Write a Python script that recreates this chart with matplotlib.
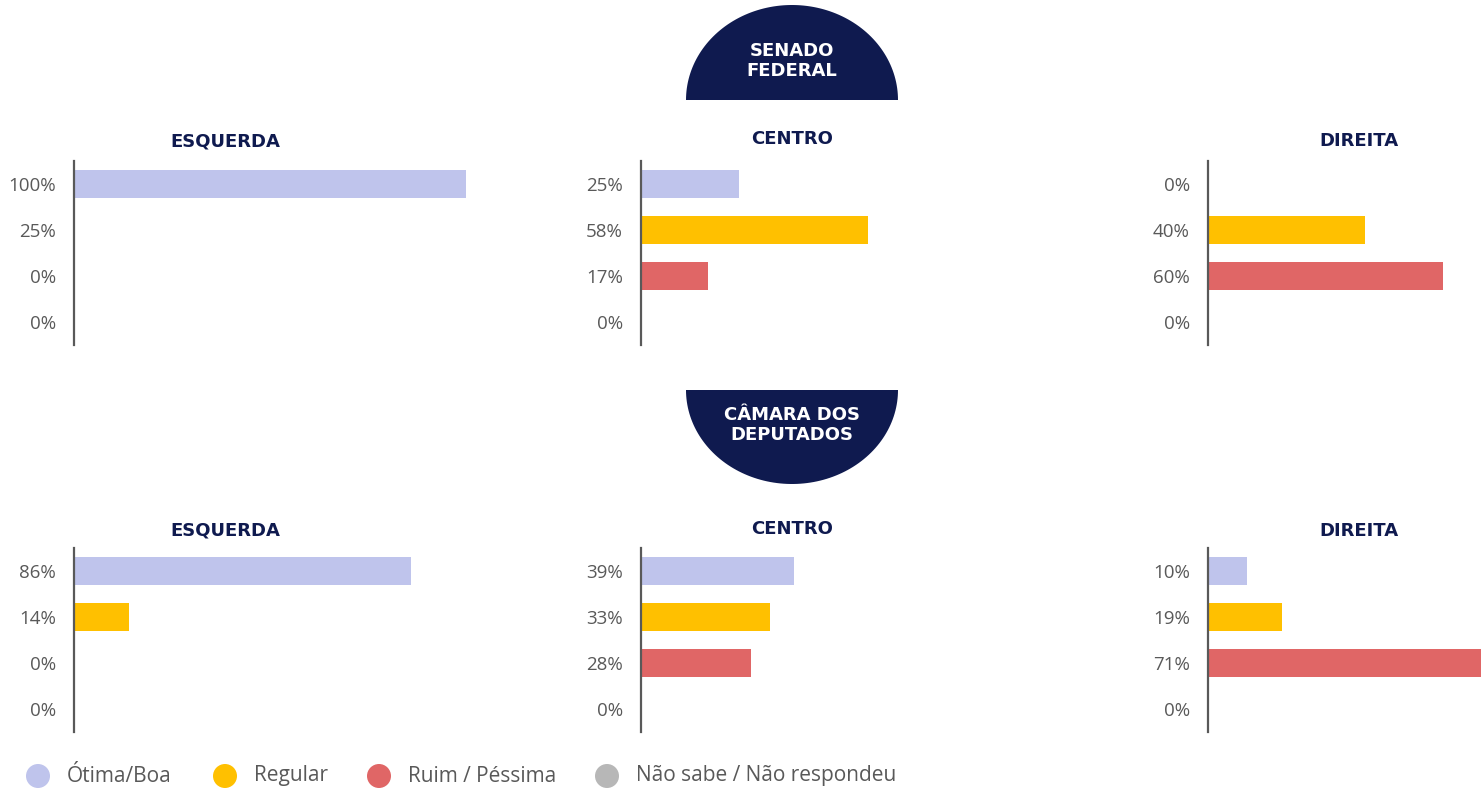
import numpy as np
import matplotlib
matplotlib.use("Agg")
import matplotlib.pyplot as plt
from matplotlib.patches import Polygon, Circle

W, H = 1481, 788

categories = ["Ótima/Boa", "Regular", "Ruim / Péssima", "Não sabe / Não respondeu"]
colors = ["#bfc4ec", "#ffc000", "#e06666", "#b7b7b7"]
groups = ["ESQUERDA", "CENTRO", "DIREITA"]
houses = ["SENADO\nFEDERAL", "CÂMARA DOS\nDEPUTADOS"]

# values (%) per house, per group, per category
senado_values = [[100, 0, 0, 0], [25, 58, 17, 0], [0, 40, 60, 0]]
senado_labels = [["100%", "25%", "0%", "0%"], ["25%", "58%", "17%", "0%"], ["0%", "40%", "60%", "0%"]]
camara_values = [[86, 14, 0, 0], [39, 33, 28, 0], [10, 19, 71, 0]]
camara_labels = [["86%", "14%", "0%", "0%"], ["39%", "33%", "28%", "0%"], ["10%", "19%", "71%", "0%"]]

NAVY = "#0f1a4f"
GRAY = "#595959"
TITLE_FONT = "DejaVu Sans"

fig = plt.figure(figsize=(W / 100, H / 100), dpi=100)

def fx(x):
    return x / W

def fy(y):
    return 1 - y / H

panel_left = [74, 641, 1208]
row_top = [161, 548]
row_h = 184
ax_w = 470

for r, (vals, labs) in enumerate([(senado_values, senado_labels), (camara_values, camara_labels)]):
    for g in range(3):
        ax = fig.add_axes([fx(panel_left[g]), fy(row_top[r] + row_h), fx(ax_w), row_h / H])
        y = np.arange(len(categories))
        ax.barh(y, np.array(vals[g]) / 100.0, height=0.61, color=colors, zorder=2)
        ax.set_xlim(0, ax_w / 392)
        ax.set_ylim(len(categories) - 0.5, -0.5)
        ax.set_yticks(y)
        ax.set_yticklabels(labs[g], fontsize=13.5, color=GRAY, family="Open Sans")
        ax.tick_params(axis="y", length=0, pad=13)
        ax.set_xticks([])
        for s in ["top", "right", "bottom"]:
            ax.spines[s].set_visible(False)
        ax.spines["left"].set_color(GRAY)
        ax.spines["left"].set_linewidth(1.6)
        ax.patch.set_alpha(0)

# overlay axes in pixel coordinates
ov = fig.add_axes([0, 0, 1, 1])
ov.set_xlim(0, W)
ov.set_ylim(H, 0)
ov.axis("off")
ov.patch.set_alpha(0)

title_y = [[141, 139, 141], [530, 529, 531]]
for r in range(2):
    for g in range(3):
        ov.text(panel_left[g] + 151, title_y[r][g], groups[g], ha="center", va="center",
                fontsize=13, fontweight="bold", color=NAVY, family=TITLE_FONT)

# badges: half ellipses
cx, a = 792, 106
t = np.linspace(0, np.pi, 100)
top_pts = np.column_stack([cx + a * np.cos(t), 100 - 95 * np.sin(t)])
bot_pts = np.column_stack([cx + a * np.cos(t), 390 + 94 * np.sin(t)])
ov.add_patch(Polygon(top_pts, closed=True, color=NAVY, lw=0))
ov.add_patch(Polygon(bot_pts, closed=True, color=NAVY, lw=0))
ov.text(cx, 61, houses[0], ha="center", va="center", fontsize=13, fontweight="bold",
        color="white", family=TITLE_FONT, linespacing=1.1)
ov.text(cx, 425, houses[1], ha="center", va="center", fontsize=13, fontweight="bold",
        color="white", family=TITLE_FONT, linespacing=1.1)

# legend
leg_x = [38, 225, 379, 607]
for i, cat in enumerate(categories):
    ov.add_patch(Circle((leg_x[i], 776), 12, color=colors[i], lw=0))
    ov.text(leg_x[i] + 29, 776, cat, ha="left", va="center", fontsize=15,
            color=GRAY, family="Open Sans")

fig.savefig("out.png", dpi=100)
